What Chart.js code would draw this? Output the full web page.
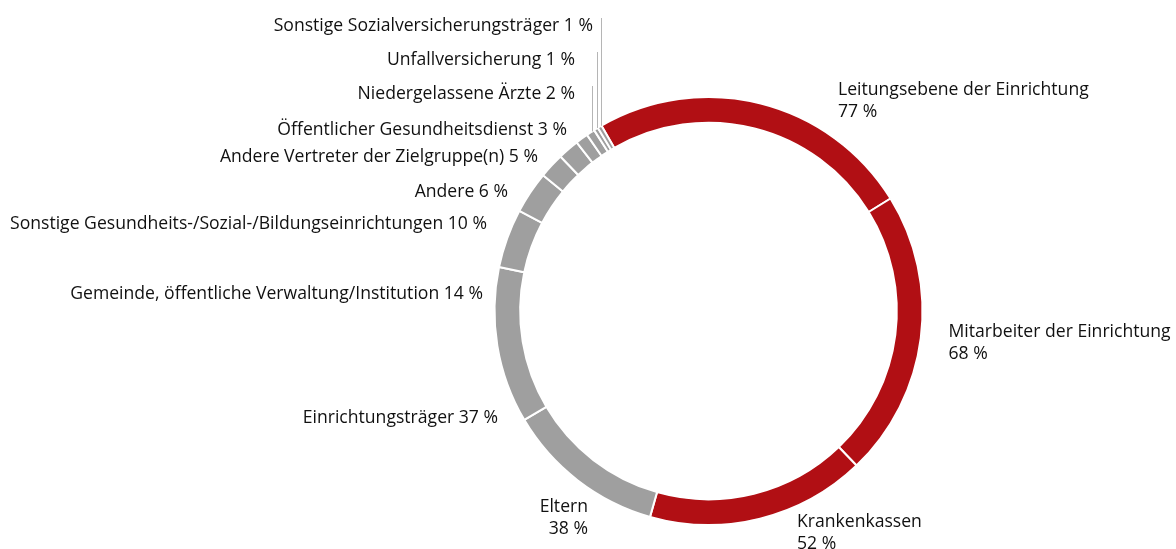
<!DOCTYPE html>
<html><head><meta charset="utf-8">
<script src="https://cdn.jsdelivr.net/npm/chart.js@4/dist/chart.umd.min.js"></script>
<style>html,body{margin:0;padding:0;background:#fff;overflow:hidden}#wrap{width:1176px;height:549px;position:relative}</style>
</head><body><div id="wrap"><canvas id="c" width="1176" height="549"></canvas></div>
<script>
const categories = [
  'Leitungsebene der Einrichtung',
  'Mitarbeiter der Einrichtung',
  'Krankenkassen',
  'Eltern',
  'Einrichtungsträger',
  'Gemeinde, öffentliche Verwaltung/Institution',
  'Sonstige Gesundheits-/Sozial-/Bildungseinrichtungen',
  'Andere',
  'Andere Vertreter der Zielgruppe(n)',
  'Öffentlicher Gesundheitsdienst',
  'Niedergelassene Ärzte',
  'Unfallversicherung',
  'Sonstige Sozialversicherungsträger'
];
const values = [77, 68, 52, 38, 37, 14, 10, 6, 5, 3, 2, 1, 1];
const highlighted = [true, true, true, false, false, false, false, false, false, false, false, false, false];

const RED = '#b10f14';
const GRAY = '#9f9f9f';
const TEXT = '#111111';
const FONT = '17.6px "Open Sans"';

// label layout relative to doughnut centre: dx, baseline dy, alignment, two-line?, leader line?
const labelLayout = [
  {dx: 129.5, dy: -216, align: 'left', twoLine: true},
  {dx: 240, dy: 26, align: 'left', twoLine: true},
  {dx: 88.5, dy: 216, align: 'left', twoLine: true},
  {dx: -120.5, dy: 201, align: 'right', twoLine: true},
  {dx: -210.5, dy: 112, align: 'right'},
  {dx: -225.5, dy: -12, align: 'right'},
  {dx: -221.5, dy: -82, align: 'right'},
  {dx: -200.5, dy: -114, align: 'right'},
  {dx: -170.5, dy: -149, align: 'right'},
  {dx: -141.5, dy: -176, align: 'right'},
  {dx: -133.5, dy: -212, align: 'right', leader: true},
  {dx: -133.5, dy: -246, align: 'right', leader: true},
  {dx: -115.5, dy: -280, align: 'right', leader: true}
];

const labelPlugin = {
  id: 'outerLabels',
  afterDatasetsDraw(chart) {
    const ctx = chart.ctx;
    const meta = chart.getDatasetMeta(0);
    ctx.save();
    ctx.font = FONT;
    ctx.fillStyle = TEXT;
    ctx.textBaseline = 'alphabetic';
    meta.data.forEach((arc, i) => {
      const p = arc.getProps(['x', 'y', 'startAngle', 'endAngle', 'outerRadius'], true);
      const L = labelLayout[i];
      const tx = p.x + L.dx;
      const ty = p.y + L.dy;
      ctx.textAlign = L.align;
      const pct = values[i] + ' %';
      if (L.twoLine) {
        ctx.fillText(categories[i], tx, ty);
        ctx.fillText(pct, tx, ty + 22);
      } else {
        ctx.fillText(categories[i] + ' ' + pct, tx, ty);
      }
      if (L.leader) {
        const mid = (p.startAngle + p.endAngle) / 2;
        const lx = Math.round(p.x + Math.cos(mid) * p.outerRadius) + 1.5;
        const ly = p.y + Math.sin(mid) * p.outerRadius;
        ctx.strokeStyle = '#b5b5b5';
        ctx.lineWidth = 1;
        ctx.beginPath();
        ctx.moveTo(lx, ty - 13);
        ctx.lineTo(lx, ly - 1);
        ctx.stroke();
      }
    });
    ctx.restore();
  }
};

new Chart(document.getElementById('c'), {
  type: 'doughnut',
  data: {
    labels: categories,
    datasets: [{
      data: values,
      backgroundColor: highlighted.map(h => h ? RED : GRAY),
      borderColor: '#ffffff',
      borderWidth: 2,
      hoverOffset: 0
    }]
  },
  options: {
    responsive: false,
    animation: false,
    rotation: -30,
    radius: 214,
    cutout: '88%',
    layout: {padding: {left: 241, right: 0, top: 80, bottom: 7}},
    plugins: {legend: {display: false}, tooltip: {enabled: false}},
    events: []
  },
  plugins: [labelPlugin]
});
</script>
</body></html>
